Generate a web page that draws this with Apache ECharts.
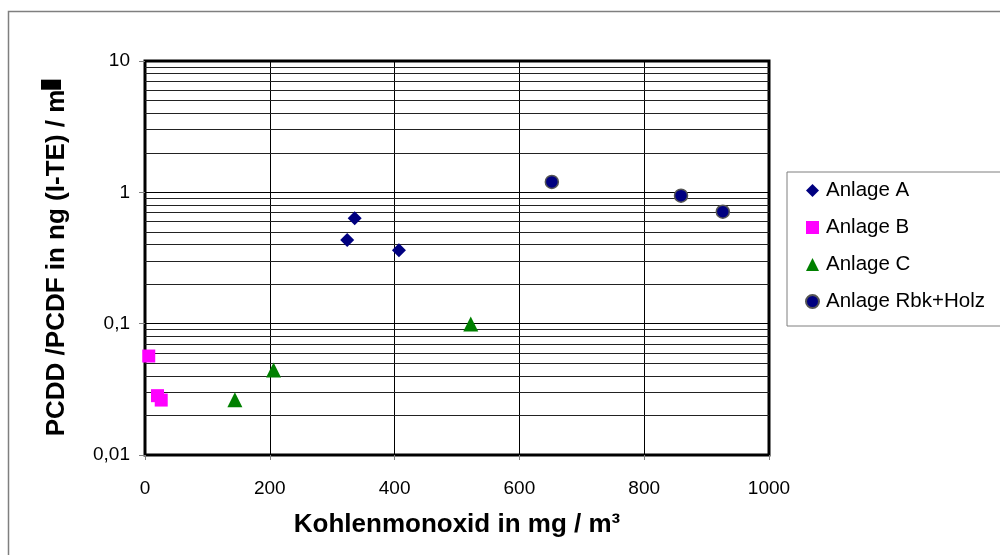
<!DOCTYPE html>
<html>
<head>
<meta charset="utf-8">
<script src="https://cdn.jsdelivr.net/npm/echarts@6/dist/echarts.min.js"></script>
<style>
  html, body { margin: 0; padding: 0; background: #fff; }
  #chart { width: 1000px; height: 555px; }
</style>
</head>
<body>
<div id="chart"></div>
<script>
// Measurements per plant: [CO in mg/m³, PCDD/PCDF in ng (I-TE)/m³]
const anlageA = [[324, 0.434], [336, 0.634], [407, 0.362]];
const anlageB = [[6, 0.0567], [20, 0.0283], [26, 0.0262]];
const anlageC = [[144, 0.0263], [206, 0.0444], [522, 0.0994]];
const anlageRbkHolz = [[652, 1.2], [859, 0.943], [926, 0.712]];

const seriesNames = ['Anlage A', 'Anlage B', 'Anlage C', 'Anlage Rbk+Holz'];

// Axis ticks and labels
const yTicks = [0.01, 0.1, 1, 10];
const yTickLabels = ['0,01', '0,1', '1', '10'];
const xTicks = [0, 200, 400, 600, 800, 1000];
const xTickLabels = ['0', '200', '400', '600', '800', '1000'];

// Intermediate log gridlines (2..9 of each decade)
const minorGridValues = [
  0.02, 0.03, 0.04, 0.05, 0.06, 0.07, 0.08, 0.09,
  0.2, 0.3, 0.4, 0.5, 0.6, 0.7, 0.8, 0.9,
  2, 3, 4, 5, 6, 7, 8, 9
];

const FONT = '"Liberation Sans", Arial, sans-serif';

function yLabel(v) {
  for (let i = 0; i < yTicks.length; i++) {
    if (Math.abs(Math.log10(v) - Math.log10(yTicks[i])) < 1e-6) return yTickLabels[i];
  }
  return '';
}
function xLabel(v) {
  const i = xTicks.indexOf(Math.round(v));
  return i >= 0 ? xTickLabels[i] : '';
}

const chart = echarts.init(document.getElementById('chart'), null, { renderer: 'canvas' });

chart.setOption({
  animation: false,
  backgroundColor: '#fff',
  textStyle: { fontFamily: FONT },
  graphic: [{
    type: 'rect',
    silent: true,
    z: -10,
    shape: { x: 8.5, y: 11.5, width: 1100, height: 700 },
    style: { fill: 'none', stroke: '#7f7f7f', lineWidth: 1.5 }
  }],
  grid: {
    left: 145, top: 61, width: 624, height: 394,
    show: true, borderColor: '#000', borderWidth: 3, backgroundColor: 'transparent'
  },
  legend: {
    data: seriesNames,
    orient: 'vertical',
    left: 787, top: 172,
    padding: [8, 80, 14, 18],
    itemGap: 16,
    itemWidth: 13, itemHeight: 13,
    borderColor: '#7f7f7f', borderWidth: 1,
    textStyle: { fontFamily: FONT, fontSize: 20.5, color: '#000', lineHeight: 21, padding: [0, 0, 0, 2] }
  },
  xAxis: {
    type: 'value', min: 0, max: 1000, interval: 200,
    name: 'Kohlenmonoxid in mg / m³',
    nameLocation: 'middle', nameGap: 57,
    nameTextStyle: { fontFamily: FONT, fontSize: 26, fontWeight: 'bold', color: '#000' },
    axisLine: { show: false },
    axisTick: { show: true, length: 5, lineStyle: { color: '#808080', width: 1 } },
    axisLabel: { fontSize: 19, color: '#000', margin: 24, formatter: xLabel },
    splitLine: { show: true, lineStyle: { color: '#000', width: 1 } }
  },
  yAxis: {
    type: 'log', logBase: 10, min: 0.01, max: 10,
    name: 'PCDD /PCDF in ng (I-TE) / m{box|³}',
    nameLocation: 'middle', nameGap: 72, nameRotate: 90,
    nameTextStyle: {
      fontFamily: FONT, fontSize: 26, fontWeight: 'bold', color: '#000', lineHeight: 32,
      rich: {
        box: { backgroundColor: '#000', color: '#000', width: 10, height: 20, fontSize: 10, verticalAlign: 'top' }
      }
    },
    axisLine: { show: false },
    axisTick: { show: true, length: 6, lineStyle: { color: '#808080', width: 1 } },
    axisLabel: { fontSize: 19, color: '#000', margin: 15, formatter: yLabel },
    splitLine: { show: true, lineStyle: { color: '#000', width: 1 } },
    minorTick: { show: false },
    minorSplitLine: { show: false }
  },
  series: [
    {
      name: 'gridlines', type: 'line', data: [], z: 1, silent: true,
      markLine: {
        silent: true, symbol: 'none', animation: false,
        label: { show: false },
        lineStyle: { color: '#222', width: 1, type: 'solid' },
        data: minorGridValues.map(v => ({ yAxis: v }))
      }
    },
    {
      name: seriesNames[0], type: 'scatter', data: anlageA, z: 5,
      symbol: 'diamond', symbolSize: 14,
      itemStyle: { color: '#000080', opacity: 1 }
    },
    {
      name: seriesNames[1], type: 'scatter', data: anlageB, z: 5,
      symbol: 'rect', symbolSize: 13,
      itemStyle: { color: '#ff00ff', opacity: 1 }
    },
    {
      name: seriesNames[2], type: 'scatter', data: anlageC, z: 5,
      symbol: 'triangle', symbolSize: 15,
      itemStyle: { color: '#008000', opacity: 1 }
    },
    {
      name: seriesNames[3], type: 'scatter', data: anlageRbkHolz, z: 5,
      symbol: 'circle', symbolSize: 13,
      itemStyle: { color: '#000080', borderColor: '#555', borderWidth: 1.5, opacity: 1 }
    }
  ]
});
</script>
</body>
</html>
